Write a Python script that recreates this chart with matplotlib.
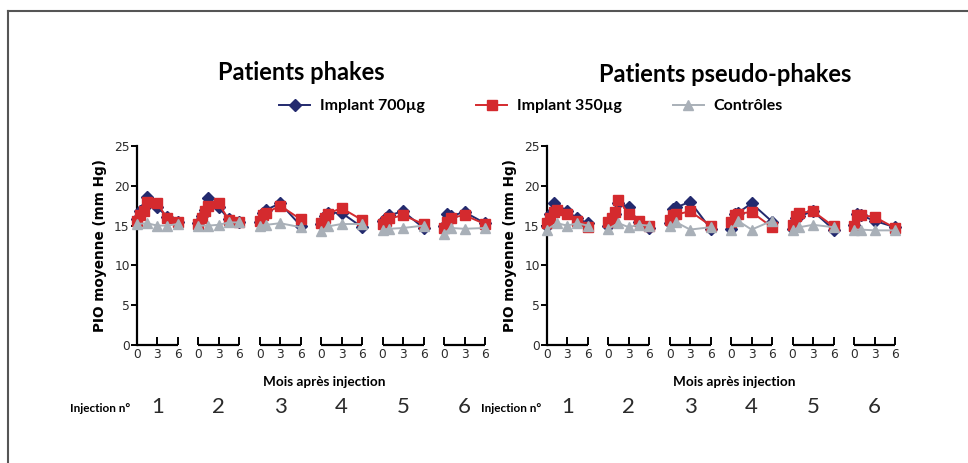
import matplotlib
matplotlib.use("Agg")
import matplotlib.pyplot as plt
from matplotlib.lines import Line2D

# ---------------- data ----------------
panel_titles = ["Patients phakes", "Patients pseudo-phakes"]
series_labels = ["Implant 700µg", "Implant 350µg", "Contrôles"]
injection_numbers = ["1", "2", "3", "4", "5", "6"]
x_tick_labels = ["0", "3", "6"]
y_ticks = [0, 5, 10, 15, 20, 25]

# visit months (injections 1-2 have more visits)
months_early = [0, 0.5, 1, 1.5, 3, 4.5, 6]
months_late = [0, 0.5, 1, 3, 6]
ctrl_months_early = [0, 1.5, 3, 4.5, 6]
ctrl_months_late = [0, 1, 3, 6]

phakes_700 = [
    [15.8, 16.8, 17.2, 18.6, 17.3, 16.1, 15.4],
    [15.3, 16.2, 17.0, 18.5, 17.3, 15.8, 15.4],
    [15.4, 16.6, 17.0, 17.8, 15.0],
    [15.2, 16.2, 16.6, 16.6, 14.8],
    [15.6, 16.0, 16.3, 16.8, 14.7],
    [14.9, 16.4, 16.2, 16.7, 15.3],
]
phakes_350 = [
    [15.6, 16.3, 16.8, 18.0, 17.8, 15.9, 15.4],
    [15.2, 15.9, 16.8, 17.5, 17.8, 15.7, 15.5],
    [15.6, 16.3, 16.6, 17.5, 15.8],
    [15.3, 16.0, 16.5, 17.2, 15.7],
    [15.2, 15.6, 15.9, 16.3, 15.2],
    [14.7, 15.5, 16.0, 16.3, 15.2],
]
phakes_ctrl = [
    [15.2, 15.3, 15.0, 15.0, 15.2],
    [15.0, 15.0, 15.1, 15.4, 15.4],
    [15.0, 15.1, 15.3, 14.8],
    [14.3, 14.9, 15.2, 15.2],
    [14.5, 14.6, 14.7, 15.0],
    [14.0, 14.7, 14.6, 14.7],
]

pseudo_700 = [
    [15.0, 16.5, 17.8, 17.2, 16.8, 15.9, 15.3],
    [15.0, 15.8, 16.5, 17.9, 17.3, 15.4, 14.7],
    [15.3, 17.1, 17.3, 18.0, 14.6],
    [14.6, 16.4, 16.6, 17.8, 15.5],
    [14.6, 15.9, 16.2, 16.8, 14.5],
    [15.1, 16.4, 16.3, 15.6, 14.8],
]
pseudo_350 = [
    [15.3, 16.0, 16.7, 16.9, 16.4, 15.6, 14.8],
    [15.5, 15.9, 16.7, 18.2, 16.5, 15.6, 15.0],
    [15.7, 16.3, 16.4, 16.8, 15.0],
    [15.5, 16.3, 16.5, 16.7, 14.8],
    [15.1, 16.2, 16.6, 16.8, 14.9],
    [15.0, 16.3, 16.3, 16.1, 14.7],
]
pseudo_ctrl = [
    [14.5, 15.3, 15.0, 15.3, 15.0],
    [14.6, 15.3, 14.8, 15.1, 15.0],
    [14.9, 15.4, 14.5, 14.8],
    [14.5, 15.6, 14.5, 15.6],
    [14.4, 14.8, 15.1, 14.8],
    [14.5, 14.5, 14.4, 14.4],
]

# ---------------- style ----------------
C700 = "#232a6e"
C350 = "#d42a2e"
CCTRL = "#a9b0b8"
TXT = "#2b2b2b"
GROUP_SPAN = 6
GROUP_STEP = 9

fig = plt.figure(figsize=(9.68, 4.63), dpi=100)

# outer frame (top and left lines)
fig.add_artist(Line2D([8 / 968, 1.0], [1 - 11 / 463, 1 - 11 / 463],
                      color="#555555", lw=1.5, transform=fig.transFigure))
fig.add_artist(Line2D([8 / 968, 8 / 968], [0, 1 - 11 / 463],
                      color="#555555", lw=1.5, transform=fig.transFigure))

panels = [
    (phakes_700, phakes_350, phakes_ctrl),
    (pseudo_700, pseudo_350, pseudo_ctrl),
]
ax_lefts = [136.7 / 968, 546.7 / 968]
ax_w = 348.3 / 968
ax_b = (463 - 345) / 463
ax_h = (345 - 146) / 463

handles = None
for p, (s700, s350, sctrl) in enumerate(panels):
    ax = fig.add_axes([ax_lefts[p], ax_b, ax_w, ax_h])
    hs = []
    for g in range(len(injection_numbers)):
        off = g * GROUP_STEP
        mt = months_early if g < 2 else months_late
        mc = ctrl_months_early if g < 2 else ctrl_months_late
        h1, = ax.plot([off + m for m in mt], s700[g], color=C700, marker="D",
                      markersize=6.5, lw=1.4, clip_on=False, zorder=3)
        h2, = ax.plot([off + m for m in mt], s350[g], color=C350, marker="s",
                      markersize=7.5, lw=1.4, clip_on=False, zorder=4)
        h3, = ax.plot([off + m for m in mc], sctrl[g], color=CCTRL, marker="^",
                      markersize=7.5, lw=1.4, clip_on=False, zorder=5)
        hs = [h1, h2, h3]
    handles = hs

    n = len(injection_numbers)
    starts = [g * GROUP_STEP for g in range(n)]
    ends = [g * GROUP_STEP + GROUP_SPAN for g in range(n)]
    ax.hlines([0] * n, starts, ends, color="black", lw=1.6, clip_on=False, zorder=2)

    ax.set_xlim(0, (n - 1) * GROUP_STEP + GROUP_SPAN)
    ax.set_ylim(0, 25)
    for s in ["top", "right", "bottom"]:
        ax.spines[s].set_visible(False)
    ax.spines["left"].set_linewidth(1.6)
    ax.set_yticks(y_ticks)
    ax.set_yticklabels([str(v) for v in y_ticks], fontsize=8.8, color=TXT,
                       family="DejaVu Sans")
    ax.tick_params(axis="y", direction="out", length=4, width=1.4, pad=1)

    xt = []
    xl = []
    for g in range(n):
        for k, lab in enumerate(x_tick_labels):
            xt.append(g * GROUP_STEP + k * 3)
            xl.append(lab)
    ax.set_xticks(xt)
    ax.set_xticklabels(xl, fontsize=8.8, color=TXT, family="DejaVu Sans")
    ax.tick_params(axis="x", direction="in", length=6, width=1.4, pad=2)

    ax.set_ylabel("PIO moyenne (mm Hg)", fontsize=9.8, fontweight="bold",
                  family="DejaVu Sans", color="black", labelpad=5)
    ax.set_xlabel("Mois après injection", fontsize=9.8, fontweight="bold",
                  family="Lato", color="black")
    ax.xaxis.set_label_coords((324 - 136.7) / 348.3, -31 / 199)

    # injection numbers under each group centre
    for g in range(n):
        ax.text(g * GROUP_STEP + 3, -7.8, injection_numbers[g], ha="center",
                va="center", fontsize=16, family="Lato", color=TXT,
                clip_on=False)

# panel titles
fig.text(301 / 968, 1 - 72 / 463, panel_titles[0], ha="center", va="center",
         fontsize=17, fontweight="bold", family="Lato", color="black")
fig.text(725 / 968, 1 - 74 / 463, panel_titles[1], ha="center", va="center",
         fontsize=17, fontweight="bold", family="Lato", color="black")

# "Injection n°" labels
fig.text(70 / 968, 1 - 408 / 463, "Injection n°", ha="left", va="center",
         fontsize=8.5, fontweight="bold", family="Lato", color="black")
fig.text(481 / 968, 1 - 408 / 463, "Injection n°", ha="left", va="center",
         fontsize=8.5, fontweight="bold", family="Lato", color="black")

leg = fig.legend(handles, series_labels, loc="center", ncol=3,
                 bbox_to_anchor=(531 / 968, 1 - 106 / 463), frameon=False,
                 handlelength=1.95, handletextpad=0.6, columnspacing=3.2,
                 prop={"family": "Lato", "weight": "bold", "size": 11.5})

fig.savefig("out.png", dpi=100)
